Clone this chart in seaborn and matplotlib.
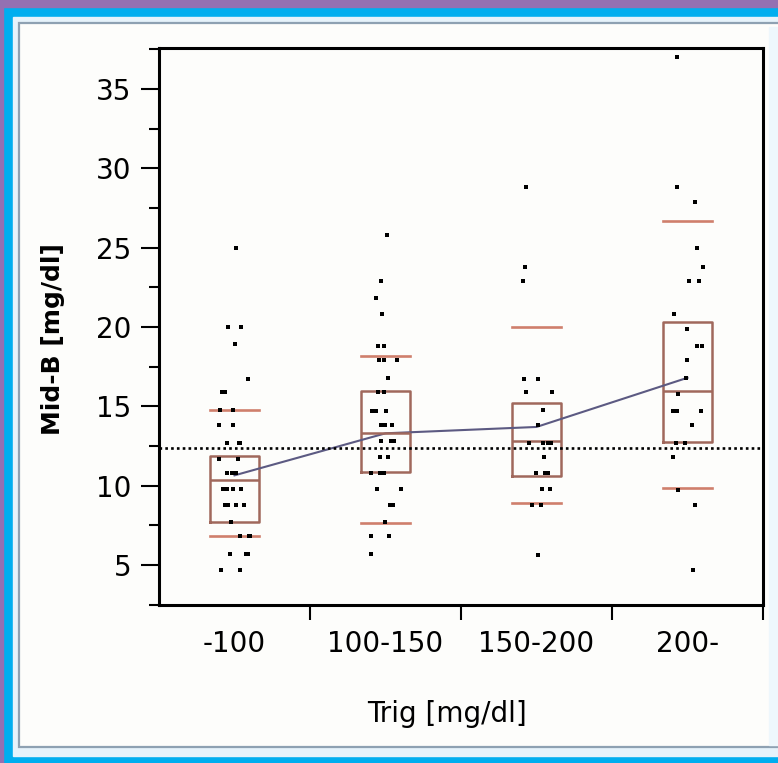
import numpy as np
import pandas as pd
import matplotlib
matplotlib.use("Agg")
import matplotlib.pyplot as plt
from matplotlib.patches import Rectangle
import seaborn as sns

# categories on the x axis
groups = ["-100", "100-150", "150-200", "200-"]

# Mid-B values per Trig group
midb_low = [25.0, 20.0, 20.0, 18.9, 16.7, 16.7, 15.9, 15.9, 14.8, 14.8,
            13.8, 13.8, 12.7, 12.7, 12.7, 11.7, 11.7, 10.8, 10.8, 10.8,
            9.8, 9.8, 9.8, 9.8, 8.8, 8.8, 8.8, 8.8, 7.7, 6.8, 6.8, 6.8,
            5.7, 5.7, 5.7, 4.7, 4.7]
midb_100_150 = [25.8, 22.9, 21.8, 20.8, 18.8, 18.8, 17.9, 17.9, 17.9, 16.8,
                15.9, 15.9, 15.9, 14.7, 14.7, 14.7, 14.7, 13.8, 13.8, 13.8,
                12.8, 12.8, 12.8, 12.8, 12.8, 11.8, 11.8, 10.8, 10.8, 10.8,
                9.8, 9.8, 9.8, 8.8, 8.8, 8.8, 7.7, 6.8, 6.8, 5.7]
midb_150_200 = [28.8, 23.8, 22.9, 16.7, 16.7, 15.9, 15.9, 14.8, 13.8, 12.7,
                12.7, 12.7, 12.7, 11.8, 10.8, 10.8, 10.8, 9.8, 9.8, 8.8,
                8.8, 5.6]
midb_high = [37.0, 28.8, 27.9, 25.0, 23.8, 22.9, 22.9, 20.8, 19.9, 18.8,
             18.8, 17.9, 16.8, 15.8, 14.7, 14.7, 14.7, 13.8, 12.7, 12.7,
             11.8, 9.7, 8.8, 4.7]

# quantile boxes as shown (10%, 25%, median, 75%, 90%)
p10 = [6.85, 7.62, 8.93, 9.83]
q1 = [7.73, 10.88, 10.6, 12.77]
med = [10.36, 13.3, 12.83, 15.98]
q3 = [11.85, 15.98, 15.18, 20.33]
p90 = [14.8, 18.17, 20.0, 26.68]

# group means (connected) and overall mean (dotted)
means = [10.65, 13.3, 13.7, 16.8]
grand_mean = 12.4

all_vals = [midb_low, midb_100_150, midb_150_200, midb_high]
pts = pd.DataFrame({
    "Trig": np.repeat(groups, [len(v) for v in all_vals]),
    "MidB": np.concatenate(all_vals),
})
qbox = pd.DataFrame({
    "Trig": np.repeat(groups, 5),
    "MidB": np.ravel(np.column_stack([p10, q1, med, q3, p90])),
})

W, H = 778, 763
fig = plt.figure(figsize=(W / 100, H / 100), dpi=100)
fig.patch.set_facecolor("#00aeef")


def frame(x0, y0, x1, y1, **kw):
    fig.patches.append(Rectangle((x0 / W, 1 - y1 / H), (x1 - x0) / W, (y1 - y0) / H,
                                 transform=fig.transFigure, zorder=-5, **kw))


frame(0, 0, W, 7, color="#9470b2")
frame(0, 0, 3, H, color="#9470b2")
frame(13, 17, W + 5, 756, color="#e6f3fb")
frame(19, 23, W + 10, 747, facecolor="#fdfdfb", edgecolor="#8ea1b2", linewidth=1.6)
frame(769, 27, W, 745, color="#eef7fc")

ax = fig.add_axes([159 / W, 1 - 605 / H, (763 - 159) / W, (605 - 47.7) / H])
ax.set_facecolor("#fdfdfb")

box_col = "#a0685c"
cap_col = "#cf7f6c"
sns.boxplot(data=qbox, x="Trig", y="MidB", order=groups, whis=(0, 100),
            width=0.33, fill=False, color=box_col, linewidth=1.8,
            showfliers=False, whiskerprops={"visible": False},
            capprops={"color": cap_col, "linewidth": 1.9},
            capwidths=0.33, ax=ax)

np.random.seed(3)
sns.stripplot(data=pts, x="Trig", y="MidB", order=groups, jitter=0.11,
              marker="s", size=3.0, color="black", linewidth=0, ax=ax)

sns.pointplot(x=groups, y=means, order=groups, color="#5c5a82", markers="",
              linewidth=1.5, errorbar=None, ax=ax)

ax.axhline(grand_mean, color="black", linestyle=(0, (1, 1.2)), linewidth=1.9)

ax.set_xlim(-0.5, 3.5)
ax.set_ylim(2.48, 37.6)

ax.set_xticks(range(4))
ax.set_xticklabels(groups)
ax.set_xticks([0.5, 1.5, 2.5, 3.5], minor=True)
ax.set_yticks(np.arange(5, 36, 5))
ax.set_yticks(np.arange(2.5, 38, 5), minor=True)
ax.tick_params(axis="x", which="major", length=0, pad=18, labelsize=20)
ax.tick_params(axis="x", which="minor", length=11, width=1.5)
ax.tick_params(axis="y", which="major", length=13, width=1.5, pad=7, labelsize=20)
ax.tick_params(axis="y", which="minor", length=7.2, width=1.5)

for s in ax.spines.values():
    s.set_linewidth(2.2)
    s.set_color("black")

ax.set_xlabel("Trig [mg/dl]", fontsize=20)
ax.set_ylabel("Mid-B [mg/dl]", fontsize=18, fontweight="bold")
ax.xaxis.set_label_coords((447 - 159) / 604, (605 - 700) / 557.3)
ax.yaxis.set_label_coords((65 - 159) / 604, (605 - 339) / 557.3)

fig.savefig("out.png", dpi=100, facecolor=fig.get_facecolor())
